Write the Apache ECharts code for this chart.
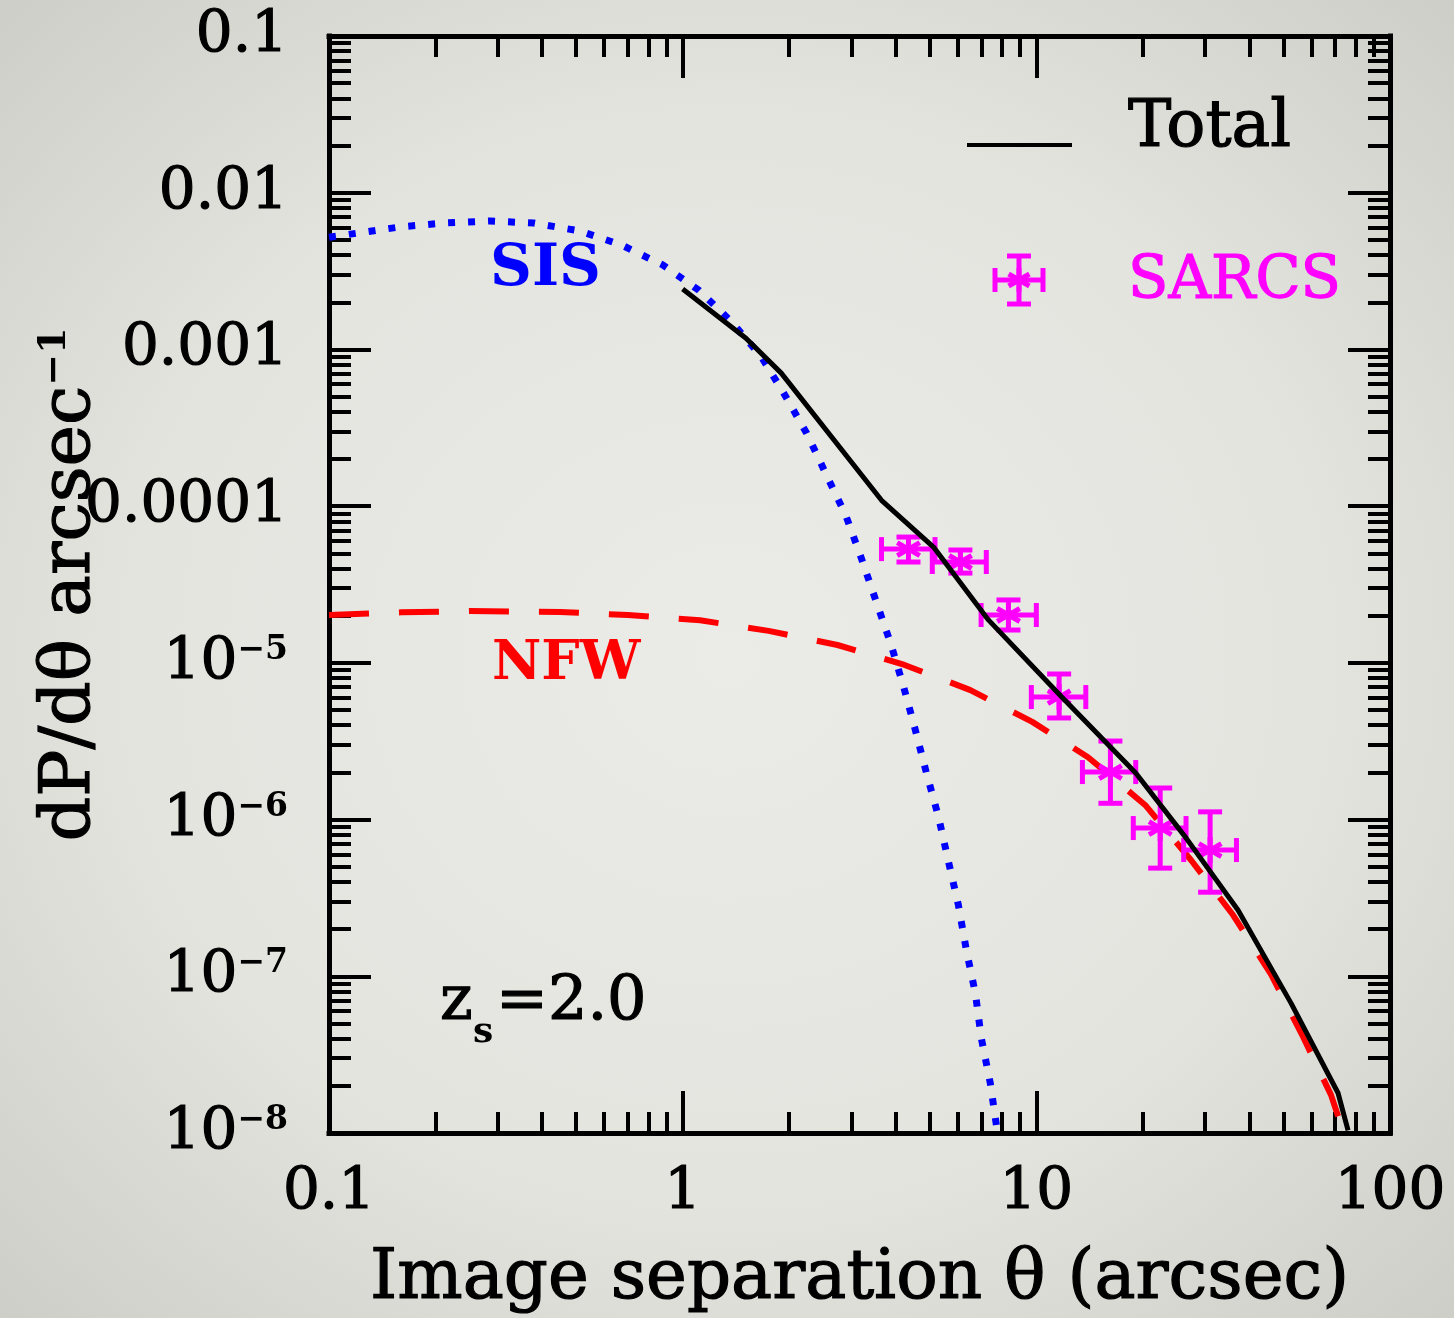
<!DOCTYPE html>
<html>
<head>
<meta charset="utf-8">
<script src="https://cdn.jsdelivr.net/npm/echarts@6.0.0/dist/echarts.min.js"></script>
<style>
  html, body { margin: 0; padding: 0; }
  body {
    width: 1454px; height: 1318px; overflow: hidden;
    background: radial-gradient(ellipse 75% 75% at 50% 50%, #ebebe7 0%, #e4e4df 55%, #cbcbc5 100%);
  }
  #main { width: 1454px; height: 1318px; }
</style>
</head>
<body>
<div id="main"></div>
<script>
// axis ticks (log scale)
const xMajor = [0.1, 1, 10, 100];
const xMajorText = ['0.1', '1', '10', '100'];
const xMinor = [0.2, 0.3, 0.4, 0.5, 0.6, 0.7, 0.8, 0.9, 2, 3, 4, 5, 6, 7, 8, 9, 20, 30, 40, 50, 60, 70, 80, 90];
const yMajor = [1e-8, 1e-7, 1e-6, 1e-5, 1e-4, 1e-3, 1e-2, 1e-1];
const yMajorText = ['{b|10}{s|−8}', '{b|10}{s|−7}', '{b|10}{s|−6}', '{b|10}{s|−5}',
  '{b|0.0001}', '{b|0.001}', '{b|0.01}', '{b|0.1}'];
const yMinor = [];
[1e-8, 1e-7, 1e-6, 1e-5, 1e-4, 1e-3, 1e-2].forEach(function (d) {
  for (let k = 2; k <= 9; k++) yMinor.push(+(k * d).toPrecision(3));
});

// SIS model (blue dotted)
const sisX = [0.1, 0.158, 0.211, 0.285, 0.379, 0.512, 0.673, 0.878, 1.11, 1.375, 1.67, 1.93, 2.24, 2.55,
  2.89, 3.20, 3.53, 3.87, 4.21, 4.55, 4.89, 5.29, 5.64, 6.02, 6.34, 6.73, 6.99, 7.41, 7.71, 7.80];
const sisY = [5.2e-3, 6.04e-3, 6.41e-3, 6.6e-3, 6.41e-3, 5.7e-3, 4.63e-3, 3.46e-3, 2.39e-3, 1.50e-3, 8.95e-4,
  5.27e-4, 2.93e-4, 1.58e-4, 8.77e-5, 4.66e-5, 2.44e-5, 1.34e-5, 7.1e-6, 3.72e-6, 1.98e-6, 1.04e-6,
  5.43e-7, 2.85e-7, 1.47e-7, 7.7e-8, 4.03e-8, 2.08e-8, 1.12e-8, 1.0e-8];

// NFW model (red dashed)
const nfwX = [0.1, 0.16, 0.25, 0.45, 0.70, 1.12, 1.75, 2.74, 4.24, 6.51, 9.74, 14.0, 20.3, 27.4, 36.0,
  46.1, 56.8, 68.1, 74];
const nfwY = [2.02e-5, 2.10e-5, 2.14e-5, 2.11e-5, 2.02e-5, 1.87e-5, 1.60e-5, 1.30e-5, 9.7e-6, 6.7e-6,
  4.2e-6, 2.5e-6, 1.24e-6, 5.5e-7, 2.46e-7, 1.03e-7, 4.1e-8, 1.75e-8, 1.0e-8];

// Total (black solid)
const totalX = [1.0, 1.51, 1.90, 3.65, 5.12, 7.32, 11.8, 19.1, 26.4, 37.2, 52.5, 71.3, 76.1];
const totalY = [2.43e-3, 1.18e-3, 7.06e-4, 1.09e-4, 5.48e-5, 1.88e-5, 6.05e-6, 1.98e-6, 7.73e-7,
  2.64e-7, 6.74e-8, 1.80e-8, 1.04e-8];

// SARCS measurements with error bars
const sarcsX = [4.35, 6.10, 8.34, 11.6, 16.2, 22.4, 31.0];
const sarcsY = [5.32e-5, 4.40e-5, 2.02e-5, 6.05e-6, 2.01e-6, 8.83e-7, 6.39e-7];
const sarcsXLo = [3.65, 5.08, 6.98, 9.68, 13.5, 18.8, 26.1];
const sarcsXHi = [5.17, 7.22, 10.0, 13.8, 19.1, 26.5, 36.8];
const sarcsYLo = [4.40e-5, 3.74e-5, 1.62e-5, 4.45e-6, 1.27e-6, 4.90e-7, 3.44e-7];
const sarcsYHi = [6.35e-5, 5.25e-5, 2.52e-5, 8.49e-6, 3.17e-6, 1.59e-6, 1.12e-6];

const FONT = 'DejaVu Serif';
const MAGENTA = '#ff00ff';

function zip(xs, ys) {
  return xs.map(function (x, i) { return [x, ys[i]]; });
}

// error bar + asterisk, made of line segments
function crossShapes(cx, cy, l, r, t, b, cap, star) {
  const s = [
    { x1: l, y1: cy, x2: r, y2: cy },
    { x1: cx, y1: t, x2: cx, y2: b },
    { x1: l, y1: cy - cap, x2: l, y2: cy + cap },
    { x1: r, y1: cy - cap, x2: r, y2: cy + cap },
    { x1: cx - cap, y1: t, x2: cx + cap, y2: t },
    { x1: cx - cap, y1: b, x2: cx + cap, y2: b }
  ];
  [90, 30, 150].forEach(function (a) {
    const dx = Math.cos(a * Math.PI / 180) * star, dy = Math.sin(a * Math.PI / 180) * star;
    s.push({ x1: cx - dx, y1: cy - dy, x2: cx + dx, y2: cy + dy });
  });
  return s;
}

function xAxis(position, ticks, len, main) {
  return {
    type: 'log', logBase: 10, min: 0.1, max: 100, position: position,
    axisLine: { show: main, onZero: false, lineStyle: { color: '#000', width: 5, cap: 'square' } },
    axisTick: { show: true, inside: true, length: len, customValues: ticks,
      lineStyle: { color: '#000', width: 4 } },
    axisLabel: {
      show: main && position === 'bottom', customValues: xMajor, margin: 31,
      color: '#000', fontFamily: FONT, fontSize: 58, textBorderColor: '#000', textBorderWidth: 1.2,
      formatter: function (v) { return xMajorText[Math.round(Math.log10(v)) + 1]; }
    },
    splitLine: { show: false }, minorTick: { show: false }
  };
}

function yAxis(position, ticks, len, main) {
  return {
    type: 'log', logBase: 10, min: 1e-8, max: 0.1, position: position,
    axisLine: { show: main, onZero: false, lineStyle: { color: '#000', width: 5, cap: 'square' } },
    axisTick: { show: true, inside: true, length: len, customValues: ticks,
      lineStyle: { color: '#000', width: 4 } },
    axisLabel: {
      show: main && position === 'left', customValues: yMajor, margin: 41, color: '#000',
      formatter: function (v) { return yMajorText[Math.round(Math.log10(v)) + 8]; },
      rich: {
        b: { fontFamily: FONT, fontSize: 58, lineHeight: 58, color: '#000', textBorderColor: '#000', textBorderWidth: 1.2 },
        s: { fontFamily: FONT, fontSize: 33, lineHeight: 40, verticalAlign: 'top', color: '#000',
          fontWeight: 'bold' }
      }
    },
    splitLine: { show: false }, minorTick: { show: false }
  };
}

const xAxes = [xAxis('bottom', xMajor, 42, true), xAxis('bottom', xMinor, 21, false),
  xAxis('top', xMajor, 42, true), xAxis('top', xMinor, 21, false)];
xAxes[0].name = 'Image separation θ (arcsec)';
xAxes[0].nameLocation = 'middle';
xAxes[0].nameGap = 113;
xAxes[0].nameMoveOverlap = false;
xAxes[0].nameTextStyle = { fontFamily: FONT, fontSize: 69, lineHeight: 69, color: '#000',
  textBorderColor: '#000', textBorderWidth: 1.2 };

const yAxes = [yAxis('left', yMajor, 42, true), yAxis('left', yMinor, 22, false),
  yAxis('right', yMajor, 42, true), yAxis('right', yMinor, 22, false)];
yAxes[0].name = '{a|dP/dθ arcsec}{s|−1}';
yAxes[0].nameLocation = 'middle';
yAxes[0].nameRotate = 90;
yAxes[0].nameGap = 223;
yAxes[0].nameMoveOverlap = false;
yAxes[0].nameTextStyle = {
  color: '#000',
  rich: {
    a: { fontFamily: FONT, fontSize: 70, lineHeight: 70, color: '#000', textBorderColor: '#000', textBorderWidth: 1.2 },
    s: { fontFamily: FONT, fontSize: 38, lineHeight: 46, verticalAlign: 'top', color: '#000', fontWeight: 'bold' }
  }
};

const sarcsData = sarcsX.map(function (x, i) {
  return [x, sarcsY[i], sarcsXLo[i], sarcsXHi[i], sarcsYLo[i], sarcsYHi[i]];
});

const myChart = echarts.init(document.getElementById('main'), null, { renderer: 'canvas' });

function label(text, x, y, font, color, border) {
  return {
    type: 'text', x: x, y: y,
    style: { text: text, font: font, fill: color, stroke: color, lineWidth: border,
      align: 'left', verticalAlign: 'middle' }
  };
}

const option = {
  backgroundColor: 'transparent',
  animation: false,
  grid: { left: 329, top: 36, right: 64, bottom: 185, containLabel: false, outerBoundsMode: 'none' },
  xAxis: xAxes,
  yAxis: yAxes,
  series: [
    {
      name: 'SIS', type: 'line', data: zip(sisX, sisY), symbol: 'none', z: 2,
      lineStyle: { color: '#0000ff', width: 7, type: [7, 13], cap: 'butt' }
    },
    {
      name: 'NFW', type: 'line', data: zip(nfwX, nfwY), symbol: 'none', z: 3,
      lineStyle: { color: '#ff0000', width: 6, type: [40, 30], cap: 'butt' }
    },
    {
      name: 'SARCS', type: 'custom', data: sarcsData, z: 4,
      encode: { x: [0, 2, 3], y: [1, 4, 5] },
      renderItem: function (params, api) {
        const c = api.coord([api.value(0), api.value(1)]);
        const l = api.coord([api.value(2), api.value(1)]);
        const r = api.coord([api.value(3), api.value(1)]);
        const lo = api.coord([api.value(0), api.value(4)]);
        const hi = api.coord([api.value(0), api.value(5)]);
        return {
          type: 'group',
          children: crossShapes(c[0], c[1], l[0], r[0], hi[1], lo[1], 12, 13).map(function (sh) {
            return { type: 'line', shape: sh, style: { stroke: MAGENTA, lineWidth: 5 } };
          })
        };
      }
    },
    {
      name: 'Total', type: 'line', data: zip(totalX, totalY), symbol: 'none', z: 5,
      lineStyle: { color: '#000', width: 5 }
    }
  ],
  graphic: [
    // legend
    { type: 'line', shape: { x1: 967, y1: 145, x2: 1072, y2: 145 }, style: { stroke: '#000', lineWidth: 4 } },
    label('Total', 1128, 129, '65px "DejaVu Serif"', '#000', 1.2),
    {
      type: 'group', children: crossShapes(1019, 280, 995, 1043, 256, 304, 12, 12).map(function (sh) {
        return { type: 'line', shape: sh, style: { stroke: MAGENTA, lineWidth: 5 } };
      })
    },
    label('SARCS', 1128, 283, '59px "DejaVu Serif"', MAGENTA, 1.2),
    // curve labels
    label('SIS', 490, 270, 'bold 58px "DejaVu Serif"', '#0000ff', 0),
    label('NFW', 492, 665, 'bold 54px "DejaVu Serif"', '#ff0000', 0),
    label('z', 440, 1003, '62px "DejaVu Serif"', '#000', 1.2),
    label('s', 473, 1033, 'bold 36px "DejaVu Serif"', '#000', 0),
    label('=2.0', 496, 1003, '62px "DejaVu Serif"', '#000', 1.2)
  ]
};

myChart.setOption(option);
</script>
</body>
</html>
